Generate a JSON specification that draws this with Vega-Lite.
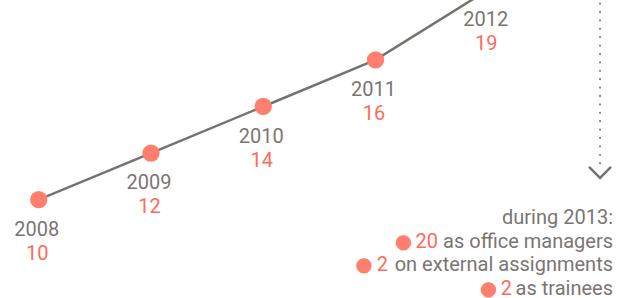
{
  "$schema": "https://vega.github.io/schema/vega-lite/v6.json",
  "width": 618,
  "height": 298,
  "autosize": {"type": "none"},
  "padding": 0,
  "background": "white",
  "config": {"view": {"stroke": null}, "text": {"font": "Roboto", "fontSize": 20}},
  "datasets": {
    "series": [
      {"year": 2008, "value": 10},
      {"year": 2009, "value": 12},
      {"year": 2010, "value": 14},
      {"year": 2011, "value": 16},
      {"year": 2012, "value": 19}
    ],
    "marker": [{"year": 2013, "top": 19.5, "bottom": 11.3, "arrow": 11.167}],
    "notes": [
      {"line": 1, "num": "", "label": "during 2013:"},
      {"line": 2, "num": "20", "label": "as office managers"},
      {"line": 3, "num": "2", "label": "on external assignments"},
      {"line": 4, "num": "2", "label": "as trainees"}
    ]
  },
  "resolve": {"scale": {"y": "independent"}},
  "layer": [
    {
      "data": {"name": "series"},
      "mark": {"type": "line", "color": "#78726e", "strokeWidth": 2.5},
      "encoding": {
        "x": {"field": "year", "type": "quantitative", "scale": {"domain": [2007.655, 2013.16], "nice": false, "zero": false}, "axis": null},
        "y": {"field": "value", "type": "quantitative", "scale": {"domain": [5.78, 18.57], "nice": false, "zero": false}, "axis": null}
      }
    },
    {
      "data": {"name": "series"},
      "mark": {"type": "circle", "size": 300, "color": "#ff7f6e", "opacity": 1},
      "encoding": {
        "x": {"field": "year", "type": "quantitative", "scale": {"domain": [2007.655, 2013.16], "nice": false, "zero": false}, "axis": null},
        "y": {"field": "value", "type": "quantitative", "scale": {"domain": [5.78, 18.57], "nice": false, "zero": false}, "axis": null}
      }
    },
    {
      "data": {"name": "series"},
      "mark": {"type": "text", "dy": 36.3, "dx": -2, "baseline": "alphabetic", "align": "center", "color": "#7b7572"},
      "encoding": {
        "x": {"field": "year", "type": "quantitative", "scale": {"domain": [2007.655, 2013.16], "nice": false, "zero": false}, "axis": null},
        "y": {"field": "value", "type": "quantitative", "scale": {"domain": [5.78, 18.57], "nice": false, "zero": false}, "axis": null},
        "text": {"field": "year", "type": "quantitative", "format": "d"}
      }
    },
    {
      "data": {"name": "series"},
      "mark": {"type": "text", "dy": 60.3, "dx": -1.5, "baseline": "alphabetic", "align": "center", "color": "#ff6b5a"},
      "encoding": {
        "x": {"field": "year", "type": "quantitative", "scale": {"domain": [2007.655, 2013.16], "nice": false, "zero": false}, "axis": null},
        "y": {"field": "value", "type": "quantitative", "scale": {"domain": [5.78, 18.57], "nice": false, "zero": false}, "axis": null},
        "text": {"field": "value", "type": "quantitative", "format": "d"}
      }
    },
    {
      "data": {"name": "marker"},
      "mark": {"type": "rule", "color": "#8a8580", "strokeWidth": 2.2, "strokeCap": "round", "strokeDash": [0.1, 8.3]},
      "encoding": {
        "x": {"field": "year", "type": "quantitative", "scale": {"domain": [2007.655, 2013.16], "nice": false, "zero": false}, "axis": null},
        "y": {"field": "top", "type": "quantitative", "scale": {"domain": [5.78, 18.57], "nice": false, "zero": false}, "axis": null},
        "y2": {"field": "bottom"}
      }
    },
    {
      "data": {"name": "marker"},
      "mark": {"type": "point", "shape": "M-1,-0.5L0,0.5L1,-0.5", "filled": false, "size": 484, "color": "#78726e", "strokeWidth": 2.5, "opacity": 1},
      "encoding": {
        "x": {"field": "year", "type": "quantitative", "scale": {"domain": [2007.655, 2013.16], "nice": false, "zero": false}, "axis": null},
        "y": {"field": "arrow", "type": "quantitative", "scale": {"domain": [5.78, 18.57], "nice": false, "zero": false}, "axis": null}
      }
    },
    {
      "data": {"name": "notes"},
      "mark": {"type": "text", "align": "right", "baseline": "alphabetic", "dx": 13, "color": "#7b7572"},
      "encoding": {
        "x": {"datum": 2013, "type": "quantitative", "scale": {"domain": [2007.655, 2013.16], "nice": false, "zero": false}, "axis": null},
        "y": {"field": "line", "type": "quantitative", "scale": {"domain": [-8.46, 4.13], "nice": false, "zero": false, "reverse": true}, "axis": null},
        "text": {"field": "label"}
      }
    },
    {
      "data": {"name": "notes"},
      "transform": [{"filter": "datum.line == 2"}],
      "mark": {"type": "text", "align": "right", "baseline": "alphabetic", "dx": -162, "color": "#ff6b5a"},
      "encoding": {
        "x": {"datum": 2013, "type": "quantitative", "scale": {"domain": [2007.655, 2013.16], "nice": false, "zero": false}, "axis": null},
        "y": {"field": "line", "type": "quantitative", "scale": {"domain": [-8.46, 4.13], "nice": false, "zero": false, "reverse": true}, "axis": null},
        "text": {"field": "num"}
      }
    },
    {
      "data": {"name": "notes"},
      "transform": [{"filter": "datum.line == 3"}],
      "mark": {"type": "text", "align": "right", "baseline": "alphabetic", "dx": -212, "color": "#ff6b5a"},
      "encoding": {
        "x": {"datum": 2013, "type": "quantitative", "scale": {"domain": [2007.655, 2013.16], "nice": false, "zero": false}, "axis": null},
        "y": {"field": "line", "type": "quantitative", "scale": {"domain": [-8.46, 4.13], "nice": false, "zero": false, "reverse": true}, "axis": null},
        "text": {"field": "num"}
      }
    },
    {
      "data": {"name": "notes"},
      "transform": [{"filter": "datum.line == 4"}],
      "mark": {"type": "text", "align": "right", "baseline": "alphabetic", "dx": -88, "color": "#ff6b5a"},
      "encoding": {
        "x": {"datum": 2013, "type": "quantitative", "scale": {"domain": [2007.655, 2013.16], "nice": false, "zero": false}, "axis": null},
        "y": {"field": "line", "type": "quantitative", "scale": {"domain": [-8.46, 4.13], "nice": false, "zero": false, "reverse": true}, "axis": null},
        "text": {"field": "num"}
      }
    },
    {
      "data": {"name": "notes"},
      "transform": [{"filter": "datum.line == 2"}],
      "mark": {"type": "text", "align": "center", "baseline": "alphabetic", "dx": -196.6, "color": "#ff7f6e", "font": "DejaVu Sans", "fontSize": 20, "text": "●"},
      "encoding": {
        "x": {"datum": 2013, "type": "quantitative", "scale": {"domain": [2007.655, 2013.16], "nice": false, "zero": false}, "axis": null},
        "y": {"field": "line", "type": "quantitative", "scale": {"domain": [-8.46, 4.13], "nice": false, "zero": false, "reverse": true}, "axis": null}
      }
    },
    {
      "data": {"name": "notes"},
      "transform": [{"filter": "datum.line == 3"}],
      "mark": {"type": "text", "align": "center", "baseline": "alphabetic", "dx": -236.1, "color": "#ff7f6e", "font": "DejaVu Sans", "fontSize": 20, "text": "●"},
      "encoding": {
        "x": {"datum": 2013, "type": "quantitative", "scale": {"domain": [2007.655, 2013.16], "nice": false, "zero": false}, "axis": null},
        "y": {"field": "line", "type": "quantitative", "scale": {"domain": [-8.46, 4.13], "nice": false, "zero": false, "reverse": true}, "axis": null}
      }
    },
    {
      "data": {"name": "notes"},
      "transform": [{"filter": "datum.line == 4"}],
      "mark": {"type": "text", "align": "center", "baseline": "alphabetic", "dx": -111.6, "color": "#ff7f6e", "font": "DejaVu Sans", "fontSize": 20, "text": "●"},
      "encoding": {
        "x": {"datum": 2013, "type": "quantitative", "scale": {"domain": [2007.655, 2013.16], "nice": false, "zero": false}, "axis": null},
        "y": {"field": "line", "type": "quantitative", "scale": {"domain": [-8.46, 4.13], "nice": false, "zero": false, "reverse": true}, "axis": null}
      }
    }
  ]
}
